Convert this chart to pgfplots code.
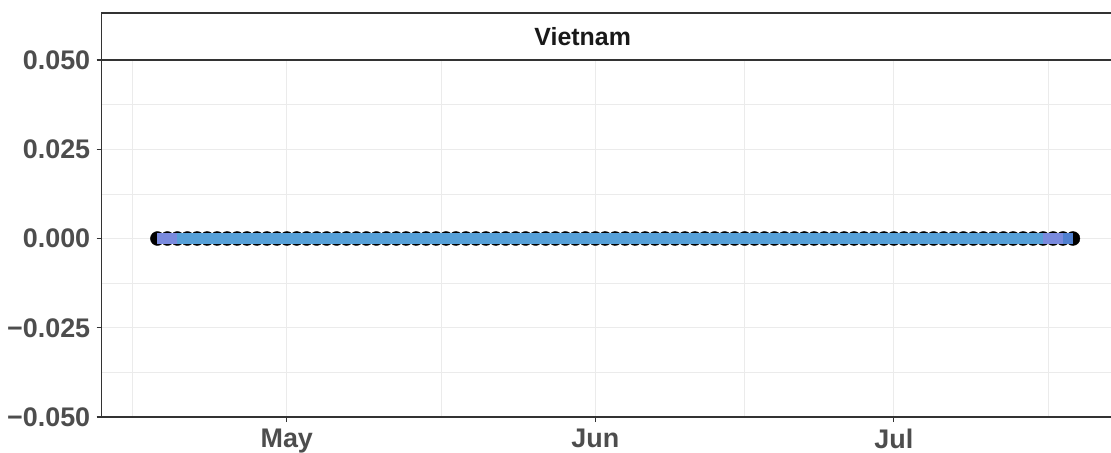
\documentclass[border=0pt]{standalone}
\usepackage{pgfplots}
\pgfplotsset{compat=1.18}
\usepackage{fontspec}
\setmainfont{Liberation Sans}
\definecolor{tickgrey}{HTML}{4D4D4D}
\definecolor{axgrey}{HTML}{333333}
\definecolor{gridgrey}{HTML}{EBEBEB}
\definecolor{lineblue}{HTML}{56A0D8}
\definecolor{linepurple}{HTML}{7A8ADE}
\definecolor{linedark}{HTML}{5080D0}
\begin{document}
\begin{tikzpicture}
\path[use as bounding box] (-101.7bp,-36bp) rectangle (1009.3bp,417bp);
\begin{axis}[
  name=ax, at={(0,0)}, anchor=south west,
  scale only axis, width=1009bp, height=357bp,
  xmin=-18.6, xmax=82.8, ymin=-0.05, ymax=0.05,
  clip mode=individual,
  axis x line*=bottom, axis y line*=left,
  xtick={0,31,61}, xticklabels={May,Jun,Jul},
  minor xtick={-15.5,15.5,46,76.5},
  ytick={-0.05,-0.025,0,0.025,0.05},
  yticklabels={−0.050,−0.025,0.000,0.025,0.050},
  minor ytick={-0.0375,-0.0125,0.0125,0.0375},
  grid=both,
  major grid style={gridgrey, line width=1.07bp},
  minor grid style={gridgrey, line width=0.53bp},
  tick align=outside, major tick length=5bp, minor tick length=0pt,
  tick style={axgrey, line width=1.07bp},
  axis line style={axgrey, line width=1.07bp},
  ticklabel style={font=\bfseries\fontsize{27}{27}\selectfont, text=tickgrey},
  yticklabel style={xshift=-3bp},
  xticklabel style={yshift=-3bp},
]
\addplot[only marks, mark=*, mark size=7bp, black] coordinates {
(-13,0) (-12,0) (-11,0) (-10,0) (-9,0) (-8,0) (-7,0) (-6,0) (-5,0) (-4,0)
(-3,0) (-2,0) (-1,0) (0,0) (1,0) (2,0) (3,0) (4,0) (5,0) (6,0)
(7,0) (8,0) (9,0) (10,0) (11,0) (12,0) (13,0) (14,0) (15,0) (16,0)
(17,0) (18,0) (19,0) (20,0) (21,0) (22,0) (23,0) (24,0) (25,0) (26,0)
(27,0) (28,0) (29,0) (30,0) (31,0) (32,0) (33,0) (34,0) (35,0) (36,0)
(37,0) (38,0) (39,0) (40,0) (41,0) (42,0) (43,0) (44,0) (45,0) (46,0)
(47,0) (48,0) (49,0) (50,0) (51,0) (52,0) (53,0) (54,0) (55,0) (56,0)
(57,0) (58,0) (59,0) (60,0) (61,0) (62,0) (63,0) (64,0) (65,0) (66,0)
(67,0) (68,0) (69,0) (70,0) (71,0) (72,0) (73,0) (74,0) (75,0) (76,0)
(77,0) (78,0) (79,0)};
\addplot[lineblue, line width=11bp, no marks] coordinates {(-13,0) (79,0)};
\addplot[linepurple, line width=11bp, no marks] coordinates {(-13,0) (-11,0)};
\addplot[linepurple, line width=11bp, no marks] coordinates {(76,0) (78,0)};
\addplot[linedark, line width=11bp, no marks] coordinates {(78,0) (79,0)};
\end{axis}
\draw[axgrey, line width=1.07bp, fill=white] (0,357bp) rectangle (1015bp,404bp);
\draw[axgrey, line width=2.5bp] (0,357bp) -- (1015bp,357bp);
\node[font=\bfseries\fontsize{25}{25}\selectfont, text=black!90] at (481bp,380.5bp) {Vietnam};
\end{tikzpicture}
\end{document}
